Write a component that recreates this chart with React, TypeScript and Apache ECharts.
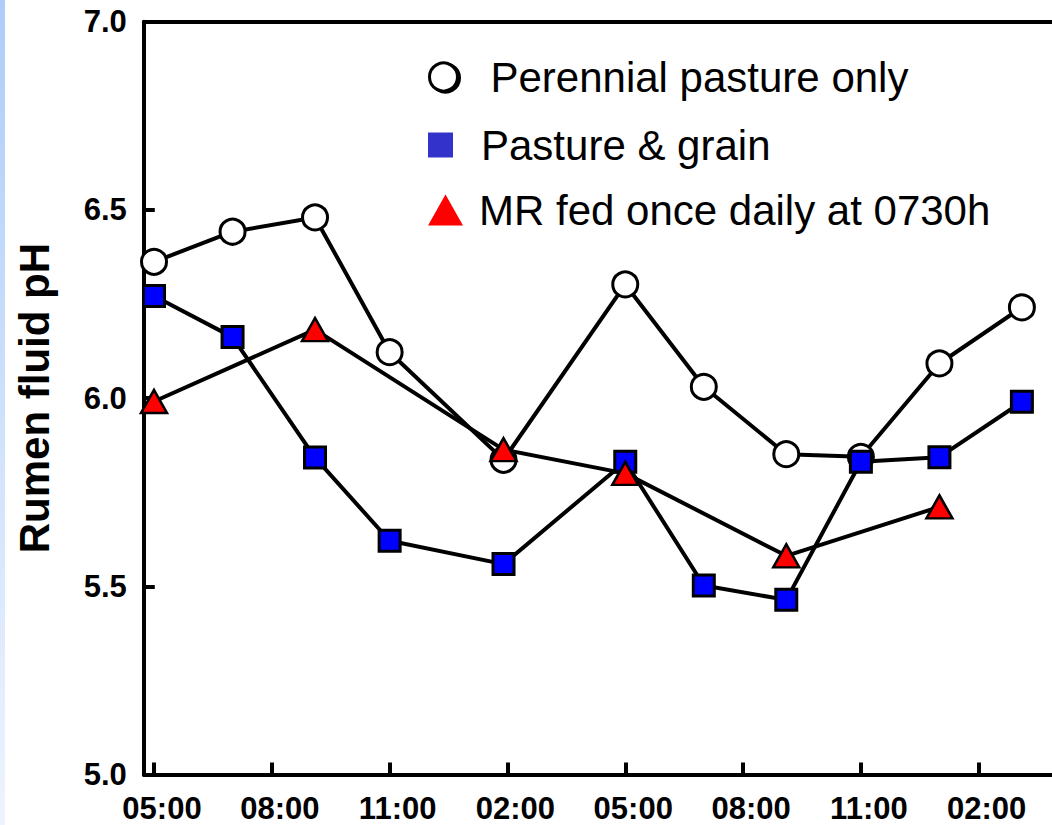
import React, { useEffect, useRef } from "react";
import * as echarts from "echarts";

// Hours after 05:00 on day 1
const tickHours = [0, 3, 6, 9, 12, 15, 18, 21];
const tickLabels = ["05:00", "08:00", "11:00", "02:00", "05:00", "08:00", "11:00", "02:00"];

const seriesNames = ["Perennial pasture only", "Pasture & grain", "MR fed once daily at 0730h"];

const pastureOnlyHours = [0, 2, 4.1, 6, 8.9, 12, 14, 16.1, 18, 20, 22.1];
const pastureOnlyPH = [6.362, 6.442, 6.48, 6.122, 5.836, 6.302, 6.03, 5.851, 5.844, 6.092, 6.241];

const pastureGrainHours = [0, 2, 4.1, 6, 8.9, 12, 14, 16.1, 18, 20, 22.1];
const pastureGrainPH = [6.271, 6.162, 5.842, 5.621, 5.559, 5.831, 5.502, 5.464, 5.831, 5.843, 5.99];

const mrHours = [0, 4.1, 8.9, 12, 16.1, 20];
const mrPH = [5.991, 6.182, 5.863, 5.8, 5.581, 5.711];

const FONT = '"Liberation Sans", Arial, Helvetica, sans-serif';

const zip = (xs: number[], ys: number[]) => xs.map((x, i) => [x, ys[i]]);

export default function App() {
  const ref = useRef<HTMLDivElement>(null);
  useEffect(() => {
    if (!ref.current) return;
    const chart = echarts.init(ref.current, undefined, { renderer: "svg" });
    const xMin = -0.26;
    const xMax = 23.167;
    const legendText = (pad: number) => ({
      fontSize: 42,
      fontFamily: FONT,
      color: "#000",
      padding: [0, 0, 0, pad],
    });
    chart.setOption({
      animation: false,
      backgroundColor: "#ffffff",
      graphic: [
        {
          type: "rect",
          left: 0,
          top: 0,
          shape: { x: 0, y: 0, width: 5, height: 825 },
          style: {
            fill: new echarts.graphic.LinearGradient(0, 0, 0, 1, [
              { offset: 0, color: "#aecdf9" },
              { offset: 1, color: "#eef4fe" },
            ]),
          },
          silent: true,
        },
      ],
      grid: {
        left: 143.8,
        top: 21.7,
        width: 920,
        bottom: 50.5,
        containLabel: false,
        outerBoundsMode: "none",
      },
      legend: [
        {
          left: 428,
          top: 56,
          padding: 0,
          orient: "vertical",
          selectedMode: false,
          itemWidth: 32,
          itemHeight: 28,
          symbolKeepAspect: false,
          data: [
            {
              name: seriesNames[0],
              icon: "circle",
              itemStyle: {
                color: "#ffffff",
                borderColor: "#000",
                borderWidth: 3,
                shadowColor: "#000",
                shadowOffsetX: 2,
                shadowOffsetY: 1,
                shadowBlur: 0,
              },
              textStyle: legendText(26),
            },
          ],
        },
        {
          left: 428,
          top: 124,
          padding: 0,
          orient: "vertical",
          selectedMode: false,
          itemWidth: 25,
          itemHeight: 25,
          symbolKeepAspect: false,
          data: [
            {
              name: seriesNames[1],
              icon: "rect",
              itemStyle: { color: "#3333cc", borderWidth: 0 },
              textStyle: legendText(23),
            },
          ],
        },
        {
          left: 428,
          top: 189,
          padding: 0,
          orient: "vertical",
          selectedMode: false,
          itemWidth: 35,
          itemHeight: 31,
          symbolKeepAspect: false,
          data: [
            {
              name: seriesNames[2],
              icon: "triangle",
              itemStyle: { color: "#ff0000", borderWidth: 0 },
              textStyle: legendText(11),
            },
          ],
        },
      ],
      xAxis: [
        {
          type: "value",
          position: "bottom",
          min: xMin,
          max: xMax,
          axisLine: { show: true, onZero: false, lineStyle: { color: "#000", width: 4 } },
          axisTick: {
            show: true,
            inside: true,
            length: 12,
            customValues: tickHours,
            lineStyle: { color: "#000", width: 4 },
          },
          axisLabel: {
            show: true,
            customValues: tickHours,
            margin: 22,
            fontSize: 31,
            lineHeight: 24,
            fontWeight: "bold",
            fontFamily: FONT,
            color: "#000",
            padding: [0, 0, 0, 16],
            formatter: (v: number) => {
              const i = tickHours.findIndex((t) => Math.abs(t - v) < 1e-6);
              return i >= 0 ? tickLabels[i] : "";
            },
          },
          splitLine: { show: false },
        },
        {
          type: "value",
          position: "top",
          min: xMin,
          max: xMax,
          axisLine: { show: true, onZero: false, lineStyle: { color: "#000", width: 4 } },
          axisTick: { show: false },
          axisLabel: { show: false },
          splitLine: { show: false },
        },
      ],
      yAxis: {
        type: "value",
        min: 5,
        max: 7,
        interval: 0.5,
        name: "Rumen fluid pH",
        nameLocation: "middle",
        nameRotate: 90,
        nameGap: 88,
        nameTextStyle: {
          fontSize: 42,
          fontWeight: "bold",
          fontFamily: FONT,
          color: "#000",
        },
        axisLine: { show: true, onZero: false, lineStyle: { color: "#000", width: 4 } },
        axisTick: { show: true, inside: true, length: 11, lineStyle: { color: "#000", width: 4 } },
        axisLabel: {
          margin: 17,
          fontSize: 31,
          fontWeight: "bold",
          fontFamily: FONT,
          color: "#000",
          formatter: (v: number) => v.toFixed(1),
        },
        splitLine: { show: false },
      },
      series: [
        {
          name: seriesNames[0],
          type: "line",
          data: zip(pastureOnlyHours, pastureOnlyPH),
          symbol: "circle",
          symbolSize: 25,
          lineStyle: { color: "#000", width: 4 },
          itemStyle: { color: "#ffffff", borderColor: "#000", borderWidth: 3 },
          z: 2,
        },
        {
          name: seriesNames[1],
          type: "line",
          data: zip(pastureGrainHours, pastureGrainPH),
          symbol: "rect",
          symbolSize: 21,
          lineStyle: { color: "#000", width: 4 },
          itemStyle: { color: "#0000ff", borderColor: "#000", borderWidth: 3 },
          z: 3,
        },
        {
          name: seriesNames[2],
          type: "line",
          data: zip(mrHours, mrPH),
          symbol: "triangle",
          symbolSize: [26, 23],
          lineStyle: { color: "#000", width: 4 },
          itemStyle: { color: "#ff0000", borderColor: "#000", borderWidth: 2.5 },
          z: 4,
        },
      ],
    });
    return () => chart.dispose();
  }, []);
  return (
    <div
      ref={ref}
      style={{ position: "absolute", left: 0, top: 0, width: 1052, height: 825 }}
    />
  );
}
